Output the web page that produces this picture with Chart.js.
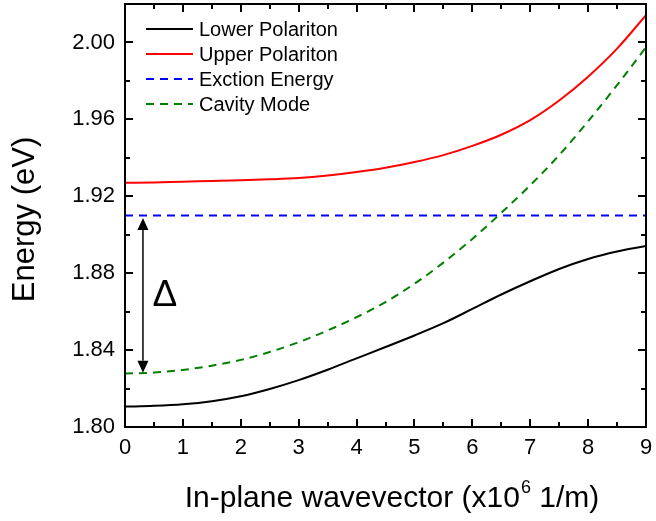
<!DOCTYPE html>
<html>
<head>
<meta charset="utf-8">
<script src="https://cdn.jsdelivr.net/npm/chart.js@4.4.0/dist/chart.umd.min.js"></script>
<style>
  html, body { margin: 0; padding: 0; background: #fff; }
  #wrap { width: 656px; height: 521px; }
</style>
</head>
<body>
<div id="wrap"><canvas id="polaritonChart" width="656" height="521"></canvas></div>
<script>
// in-plane wavevector (x10^6 1/m)
const wavevector = [0, 0.5, 1, 1.5, 2, 2.5, 3, 3.5, 4, 4.5, 5, 5.5, 6, 6.5, 7, 7.5, 8, 8.5, 9];

// energies (eV)
const lowerPolariton = [1.8106, 1.8110, 1.8118, 1.8134, 1.8160, 1.8198, 1.8244, 1.8298, 1.8357, 1.8416,
  1.8476, 1.8540, 1.8614, 1.8689, 1.8758, 1.8822, 1.8874, 1.8913, 1.8942];
const upperPolariton = [1.9270, 1.9272, 1.9276, 1.9279, 1.9283, 1.9288, 1.9295, 1.9308, 1.9326, 1.9348,
  1.9378, 1.9414, 1.9462, 1.9520, 1.9596, 1.9698, 1.9822, 1.9968, 2.0142];
const excitonEnergy = [1.91, 1.91, 1.91, 1.91, 1.91, 1.91, 1.91, 1.91, 1.91, 1.91,
  1.91, 1.91, 1.91, 1.91, 1.91, 1.91, 1.91, 1.91, 1.91];
const cavityMode = [1.8278, 1.8283, 1.8297, 1.8319, 1.8349, 1.8390, 1.8441, 1.8502, 1.8571, 1.8650,
  1.8745, 1.8855, 1.8978, 1.9114, 1.9257, 1.9414, 1.9590, 1.9778, 1.9975];

const seriesLabels = ['Lower Polariton', 'Upper Polariton', 'Exction Energy', 'Cavity Mode'];

// axis ranges
const xMin = 0, xMax = 9, xStep = 0.5;
const yMin = 1.80, yMax = 2.02, yStep = 0.02;

// delta arrow (x, from exciton down to cavity mode at k~0)
const arrowX = 0.31;
const arrowTop = 1.9087;
const arrowBottom = 1.8282;
const deltaLabelPos = { x: 0.69, y: 1.868 };

const FONT = '"Liberation Sans", Arial, Helvetica, sans-serif';

const toPoints = ys => wavevector.map((k, i) => ({ x: k, y: ys[i] }));

// inward ticks on all four sides + the frame
const frameTicks = {
  id: 'frameTicks',
  afterDraw(chart) {
    const { ctx, chartArea: a, scales } = chart;
    ctx.save();
    ctx.strokeStyle = '#000';
    ctx.lineWidth = 2;
    ctx.beginPath();
    scales.x.ticks.forEach(t => {
      const px = Math.round(scales.x.getPixelForValue(t.value));
      const len = Number.isInteger(t.value) ? 8 : 5;
      ctx.moveTo(px, a.bottom); ctx.lineTo(px, a.bottom - len);
      ctx.moveTo(px, a.top); ctx.lineTo(px, a.top + len);
    });
    scales.y.ticks.forEach(t => {
      const py = Math.round(scales.y.getPixelForValue(t.value));
      const len = Math.round(t.value * 100) % 4 === 0 ? 8 : 5;
      ctx.moveTo(a.left, py); ctx.lineTo(a.left + len, py);
      ctx.moveTo(a.right, py); ctx.lineTo(a.right - len, py);
    });
    ctx.stroke();
    ctx.strokeRect(a.left, a.top, a.right - a.left, a.bottom - a.top);
    ctx.restore();
  }
};

// legend inside the plot, top left
const insideLegend = {
  id: 'insideLegend',
  afterDraw(chart) {
    const { ctx, chartArea: a } = chart;
    ctx.save();
    ctx.font = '20px ' + FONT;
    ctx.textBaseline = 'middle';
    ctx.fillStyle = '#000';
    chart.data.datasets.forEach((ds, i) => {
      const y = a.top + 25 + i * 25;
      ctx.beginPath();
      ctx.strokeStyle = ds.borderColor;
      ctx.lineWidth = ds.borderWidth;
      ctx.setLineDash(ds.borderDash || []);
      ctx.moveTo(a.left + 21, y);
      ctx.lineTo(a.left + 68, y);
      ctx.stroke();
      ctx.setLineDash([]);
      ctx.fillText(ds.label, a.left + 74, y + 1);
    });
    ctx.restore();
  }
};

// double arrow and delta label
const deltaArrow = {
  id: 'deltaArrow',
  afterDatasetsDraw(chart) {
    const { ctx, scales } = chart;
    const x = scales.x.getPixelForValue(arrowX);
    const yT = scales.y.getPixelForValue(arrowTop);
    const yB = scales.y.getPixelForValue(arrowBottom);
    const head = 12, half = 5.5;
    ctx.save();
    ctx.strokeStyle = '#000';
    ctx.fillStyle = '#000';
    ctx.lineWidth = 1.5;
    ctx.beginPath();
    ctx.moveTo(x, yT + head);
    ctx.lineTo(x, yB - head);
    ctx.stroke();
    ctx.beginPath();
    ctx.moveTo(x, yT); ctx.lineTo(x - half, yT + head); ctx.lineTo(x + half, yT + head); ctx.closePath();
    ctx.moveTo(x, yB); ctx.lineTo(x - half, yB - head); ctx.lineTo(x + half, yB - head); ctx.closePath();
    ctx.fill();
    ctx.font = '37px ' + FONT;
    ctx.textAlign = 'center';
    ctx.textBaseline = 'middle';
    ctx.fillText('\u0394', scales.x.getPixelForValue(deltaLabelPos.x), scales.y.getPixelForValue(deltaLabelPos.y));
    ctx.restore();
  }
};

// axis titles (x title needs a superscript)
const axisTitles = {
  id: 'axisTitles',
  afterDraw(chart) {
    const { ctx, chartArea: a } = chart;
    ctx.save();
    ctx.fillStyle = '#000';
    ctx.textBaseline = 'alphabetic';

    ctx.font = '30px ' + FONT;
    const p1 = 'In-plane wavevector (x10';
    const p3 = ' 1/m)';
    const w1 = ctx.measureText(p1).width;
    const w3 = ctx.measureText(p3).width;
    ctx.font = '18px ' + FONT;
    const w2 = ctx.measureText('6').width;
    const total = w1 + w2 + w3;
    let x = (a.left + a.right) / 2 + 6 - total / 2;
    const base = a.bottom + 80;
    ctx.font = '30px ' + FONT;
    ctx.fillText(p1, x, base);
    ctx.font = '18px ' + FONT;
    ctx.fillText('6', x + w1 + 1, base - 14);
    ctx.font = '30px ' + FONT;
    ctx.fillText(p3, x + w1 + w2 + 1, base);

    ctx.font = '31px ' + FONT;
    ctx.translate(34, (a.top + a.bottom) / 2 + 4);
    ctx.rotate(-Math.PI / 2);
    ctx.textAlign = 'center';
    ctx.fillText('Energy (eV)', 0, 0);
    ctx.restore();
  }
};

function loadPolaritonChart() {
  const ctx = document.getElementById('polaritonChart').getContext('2d');
  new Chart(ctx, {
    type: 'line',
    data: {
      datasets: [{
        label: seriesLabels[0],
        data: toPoints(lowerPolariton),
        borderColor: '#000000',
        borderWidth: 2
      }, {
        label: seriesLabels[1],
        data: toPoints(upperPolariton),
        borderColor: '#ff0000',
        borderWidth: 2
      }, {
        label: seriesLabels[2],
        data: toPoints(excitonEnergy),
        borderColor: '#0000ff',
        borderWidth: 2,
        borderDash: [8, 6]
      }, {
        label: seriesLabels[3],
        data: toPoints(cavityMode),
        borderColor: '#008000',
        borderWidth: 2,
        borderDash: [8, 6]
      }]
    },
    options: {
      responsive: false,
      animation: false,
      events: [],
      layout: { padding: { top: 4, right: 10, left: 0, bottom: 0 } },
      elements: {
        point: { radius: 0 },
        line: { cubicInterpolationMode: 'monotone', fill: false }
      },
      plugins: {
        legend: { display: false },
        tooltip: { enabled: false }
      },
      scales: {
        x: {
          type: 'linear',
          min: xMin,
          max: xMax,
          grid: { display: false, drawTicks: false },
          border: { display: false },
          ticks: {
            stepSize: xStep,
            padding: 8,
            color: '#000',
            font: { family: FONT, size: 22 },
            maxRotation: 0,
            autoSkip: false,
            callback: v => Number.isInteger(v) ? String(v) : ''
          },
          afterFit: scale => {
            scale.height = 94;
            scale.paddingLeft = 0;
            scale.paddingRight = 0;
          }
        },
        y: {
          type: 'linear',
          min: yMin,
          max: yMax,
          grid: { display: false, drawTicks: false },
          border: { display: false },
          ticks: {
            stepSize: yStep,
            padding: 10,
            color: '#000',
            font: { family: FONT, size: 22 },
            autoSkip: false,
            callback: v => Math.round(v * 100) % 4 === 0 ? v.toFixed(2) : ''
          },
          afterFit: scale => {
            scale.width = 125;
            scale.paddingTop = 0;
            scale.paddingBottom = 0;
          }
        }
      }
    },
    plugins: [deltaArrow, frameTicks, insideLegend, axisTitles]
  });
}

loadPolaritonChart();
</script>
</body>
</html>
